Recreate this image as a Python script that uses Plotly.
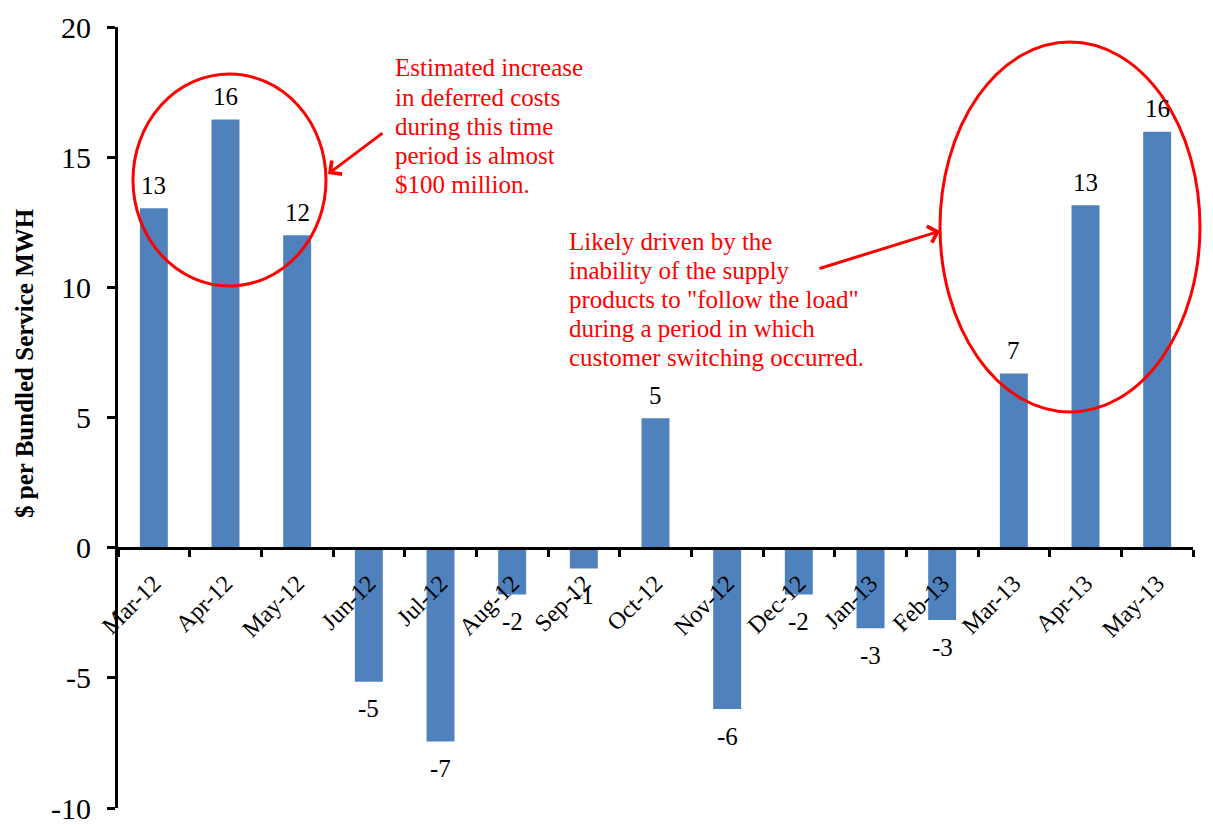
import plotly.graph_objects as go

# Monthly change in deferred costs, $ per bundled service MWH
months = ["Mar-12", "Apr-12", "May-12", "Jun-12", "Jul-12", "Aug-12", "Sep-12",
          "Oct-12", "Nov-12", "Dec-12", "Jan-13", "Feb-13", "Mar-13", "Apr-13", "May-13"]
values = [13.04, 16.45, 12.0, -5.15, -7.45, -1.8, -0.8,
          4.97, -6.2, -1.8, -3.1, -2.78, 6.69, 13.15, 15.98]

y_ticks = [-10, -5, 0, 5, 10, 15, 20]
y_tick_text = ["-10", "-5", "0", "5", "10", "15", "20"]

note_left = ["Estimated increase", "in deferred costs", "during this time",
             "period is almost", "$100 million."]
note_right = ["Likely driven by the", "inability of the supply",
              "products to \"follow the load\"", "during a period in which",
              "customer switching occurred."]

SERIF = "Liberation Serif, Times New Roman, serif"
RED = "#FF0000"

W, H = 1213, 825
ML, MR, MT, MB = 118, 20, 27, 17
PW, PH = W - ML - MR, H - MT - MB


def px_x(p):
    """Pixel column -> paper x."""
    return (p - ML) / PW


def px_y(p):
    """Pixel row -> paper y."""
    return (H - MB - p) / PH


fig = go.Figure()
fig.add_trace(go.Bar(
    x=months,
    y=values,
    marker=dict(color="#4F81BD", line=dict(width=0)),
    width=0.39,
    hoverinfo="x+y",
))

# Value labels just beyond the end of each bar
for m, v in zip(months, values):
    fig.add_annotation(x=m, y=v, text=f"{v:.0f}", showarrow=False,
                       xref="x", yref="y", yanchor="middle",
                       yshift=23 if v >= 0 else -27,
                       font=dict(family=SERIF, size=25, color="black"))

y_lo, y_hi = y_ticks[0], y_ticks[-1]
zero_frac = (0 - y_lo) / (y_hi - y_lo)

fig.update_layout(
    width=W, height=H,
    margin=dict(l=ML, r=MR, t=MT, b=MB, autoexpand=False),
    paper_bgcolor="white", plot_bgcolor="white",
    showlegend=False,
    font=dict(family=SERIF, color="black"),
    xaxis=dict(
        type="category",
        anchor="free", position=zero_frac,
        showline=True, linecolor="black", linewidth=3,
        ticks="outside", tickson="boundaries", ticklen=7, tickwidth=3, tickcolor="black",
        tickangle=-45, ticklabelstandoff=10,
        tickfont=dict(family=SERIF, size=24, color="black"),
        showgrid=False, zeroline=False, automargin=False,
        range=[-0.5, len(months) - 0.5],
    ),
    yaxis=dict(
        range=[y_lo, y_hi],
        tickmode="array", tickvals=y_ticks, ticktext=y_tick_text,
        showline=True, linecolor="black", linewidth=3,
        ticks="outside", ticklen=8, tickwidth=3, tickcolor="black",
        ticklabelstandoff=10, ticklabeloverflow="allow",
        tickfont=dict(family=SERIF, size=30, color="black"),
        showgrid=False, zeroline=False, automargin=False,
    ),
)

# Y axis title
fig.add_annotation(
    text="<b>$ per Bundled Service MWH</b>",
    xref="paper", yref="paper", x=px_x(24), y=px_y(363),
    xanchor="center", yanchor="middle", textangle=-90,
    showarrow=False, font=dict(family=SERIF, size=25, color="black"),
)

# Ellipses highlighting the two periods
fig.add_shape(type="circle", xref="paper", yref="paper",
              x0=px_x(133), x1=px_x(326), y0=px_y(286), y1=px_y(74),
              line=dict(color=RED, width=3))
fig.add_shape(type="circle", xref="paper", yref="paper",
              x0=px_x(940), x1=px_x(1200), y0=px_y(412), y1=px_y(42),
              line=dict(color=RED, width=3))

# Callout texts, one line per annotation for tight line spacing
for i, line in enumerate(note_left):
    fig.add_annotation(text=line, xref="paper", yref="paper",
                       x=px_x(393), y=px_y(68 + 29 * i),
                       xanchor="left", yanchor="middle", showarrow=False,
                       font=dict(family=SERIF, size=25, color=RED))
for i, line in enumerate(note_right):
    fig.add_annotation(text=line, xref="paper", yref="paper",
                       x=px_x(567), y=px_y(241 + 29 * i),
                       xanchor="left", yanchor="middle", showarrow=False,
                       font=dict(family=SERIF, size=25, color=RED))


def cat_x(p):
    """Pixel column -> category-axis coordinate."""
    return (p - ML) / PW * len(months) - 0.5


def val_y(p):
    """Pixel row -> value-axis coordinate."""
    return y_lo + (H - MB - p) / PH * (y_hi - y_lo)


# Arrows from the callouts to the ellipses
for (tx, ty), (hx, hy) in [((384, 132), (328, 174)), ((818, 269), (940, 231))]:
    fig.add_annotation(text="", x=cat_x(hx), y=val_y(hy), ax=cat_x(tx), ay=val_y(ty),
                       xref="x", yref="y", axref="x", ayref="y",
                       showarrow=True, arrowhead=4, arrowsize=1.1, arrowwidth=3,
                       arrowcolor=RED)

fig.write_html("out.html")
